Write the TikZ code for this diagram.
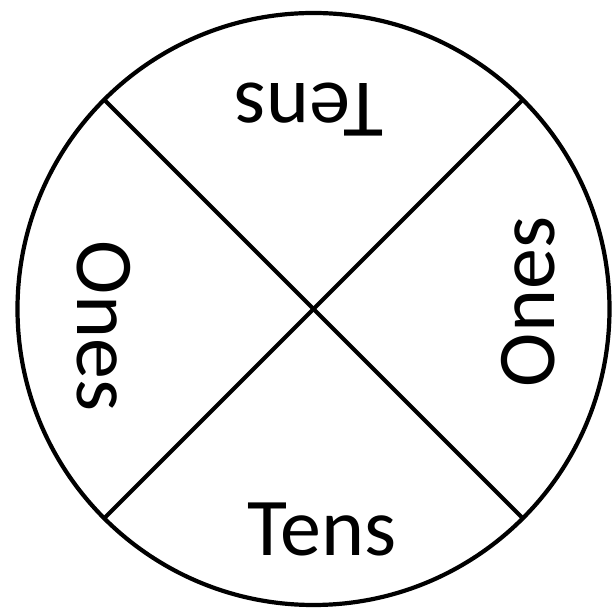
\documentclass[tikz,border=0pt]{standalone}
\usepackage{fontspec}
\setmainfont{Carlito}
\begin{document}
\begin{tikzpicture}[x=0.5pt, y=-0.5pt, line width=2.1pt,
    lbl/.style={font=\fontsize{41}{41}\selectfont, inner sep=0pt, anchor=base}]
	\useasboundingbox (0, 0) rectangle (616, 608);
	\node[draw, circle, minimum size=296pt, inner sep=0pt, outer sep=0pt] (wheel) at (313.5, 309) {};
	\draw (wheel.135) -- (wheel.-45);
	\draw (wheel.45) -- (wheel.-135);
	\node[lbl] (tensB) at (322, 556) {Tens};
	\node[lbl, rotate=180] (tensT) at (309, 84) {Tens};
	\node[lbl, rotate=-90] (onesL) at (77, 326) {Ones};
	\node[lbl, rotate=90] (onesR) at (554, 302) {Ones};
\end{tikzpicture}
\end{document}
